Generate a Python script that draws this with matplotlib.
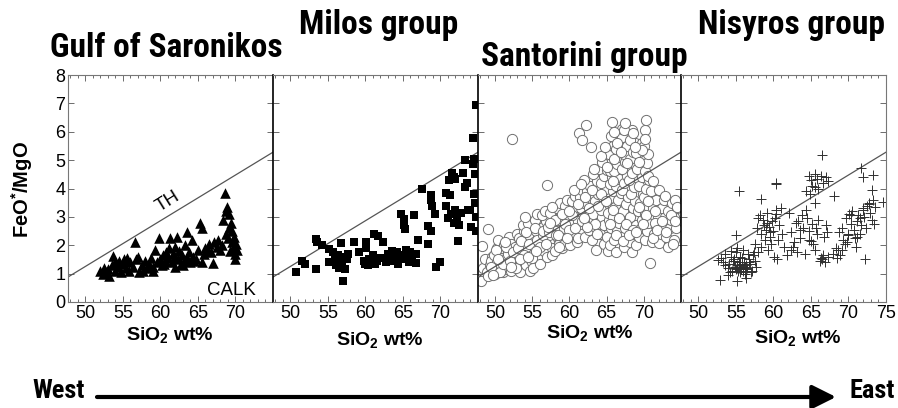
import matplotlib
matplotlib.use("Agg")
import matplotlib.pyplot as plt
from matplotlib import font_manager as fm
from matplotlib.ticker import MultipleLocator, FixedLocator
import numpy as np

# ---------------- data ----------------
panel_titles = ["Gulf of Saronikos", "Milos group", "Santorini group", "Nisyros group"]
x_ticks = [50, 55, 60, 65, 70, 75]
y_ticks = [0, 1, 2, 3, 4, 5, 6, 7, 8]

# TH / CALK boundary
th_sio2 = [47.7, 75.0]
th_ratio = [0.88, 5.28]

saronikos_sio2 = [
    52.0, 52.3, 52.5, 52.8, 53.0, 53.2, 53.5, 53.7, 53.9, 54.0,
    54.3, 54.5, 54.8, 55.0, 55.2, 55.4, 55.6, 55.8, 56.0, 56.3,
    56.6, 56.8, 57.0, 57.2, 57.5, 57.7, 58.0, 58.2, 58.5, 58.8,
    59.0, 59.3, 59.5, 59.8, 60.0, 60.2, 60.4, 60.6, 60.8, 61.0,
    61.2, 61.3, 61.5, 61.7, 61.9, 62.0, 62.2, 62.3, 62.5, 62.7,
    62.9, 63.1, 63.3, 63.5, 63.6, 63.8, 64.0, 64.2, 64.4, 64.7,
    65.0, 65.3, 65.6, 65.8, 66.0, 66.3, 66.5, 66.8, 67.0, 67.2,
    67.5, 67.7, 68.0, 68.2, 68.4, 68.6, 68.7, 68.8, 68.9, 69.0,
    69.1, 69.2, 69.3, 69.4, 69.5, 69.6, 69.7, 69.8, 69.9, 70.0,
    70.1, 70.2, 59.0, 60.5, 62.0, 63.0, 64.5, 65.5,
]
saronikos_ratio = [
    1.10, 0.98, 1.20, 1.05, 1.15, 0.90, 1.30, 1.62, 1.40, 1.10,
    1.25, 1.45, 1.05, 1.35, 1.50, 1.20, 1.55, 1.10, 1.40, 1.25,
    2.10, 1.50, 1.60, 1.05, 1.30, 1.10, 1.45, 1.20, 1.35, 1.55,
    1.25, 1.85, 1.40, 2.25, 1.50, 1.30, 1.65, 1.45, 1.75, 1.55,
    1.90, 2.25, 1.40, 1.70, 1.60, 1.95, 2.30, 1.50, 1.80, 1.35,
    1.65, 1.45, 2.00, 1.55, 2.48, 1.75, 1.40, 2.20, 1.60, 1.50,
    1.85, 2.80, 2.60, 1.70, 1.90, 1.80, 2.05, 1.75, 1.37, 2.10,
    1.95, 2.20, 1.85, 2.00, 2.90, 3.84, 3.20, 2.40, 3.35, 2.25,
    3.10, 2.60, 1.80, 2.80, 2.10, 2.50, 1.90, 2.30, 1.70, 1.50,
    2.05, 1.85, 1.10, 1.35, 1.25, 1.30, 1.45, 1.40,
]

milos_sio2 = [
    50.7, 51.5, 52.0, 53.4, 53.5, 54.2, 53.4, 55.1, 55.1, 55.7,
    55.9, 56.1, 56.3, 56.5, 56.6, 56.8, 56.9, 57.0, 57.1, 57.3,
    57.5, 57.7, 58.5, 59.1, 59.8, 60.0, 60.1, 60.1, 60.3, 60.5,
    60.7, 61.0, 61.2, 61.3, 61.5, 61.7, 62.0, 62.4, 62.8, 63.0,
    63.3, 63.5, 63.7, 64.0, 64.2, 64.4, 64.6, 64.8, 65.0, 65.2,
    65.2, 65.3, 65.4, 65.6, 65.8, 66.0, 66.2, 66.5, 66.7, 67.0,
    66.8, 67.6, 68.4, 68.4, 68.8, 68.8, 68.9, 68.8, 69.3, 69.4,
    70.0, 70.7, 70.7, 71.1, 71.3, 71.5, 71.8, 72.0, 71.0, 71.4,
    71.8, 72.0, 72.2, 72.4, 72.5, 72.8, 73.0, 73.3, 73.3, 73.5,
    73.7, 74.0, 74.1, 74.3, 74.5, 74.6, 74.5, 74.6, 74.7, 74.8,
    74.7, 74.4,
]
milos_ratio = [
    1.04, 1.43, 1.35, 2.23, 2.13, 2.02, 1.17, 1.87, 1.42, 1.75,
    1.55, 1.30, 1.65, 1.20, 1.45, 2.08, 1.35, 0.73, 1.60, 1.15,
    1.50, 1.70, 2.10, 1.75, 1.45, 1.35, 2.13, 1.90, 1.30, 1.50,
    1.40, 1.65, 2.40, 1.35, 1.45, 2.31, 1.55, 2.10, 1.40, 1.70,
    1.55, 1.78, 1.45, 1.60, 1.75, 1.35, 1.65, 3.10, 1.50, 2.92,
    2.72, 2.57, 1.85, 1.60, 1.40, 1.75, 1.55, 3.07, 1.70, 2.19,
    1.37, 4.00, 2.69, 2.04, 3.78, 3.60, 3.37, 2.49, 3.10, 1.25,
    1.42, 3.37, 3.84, 4.30, 3.78, 4.54, 4.40, 4.35, 2.95, 3.10,
    2.80, 3.25, 3.00, 2.16, 2.70, 3.15, 4.54, 5.00, 4.07, 4.20,
    3.25, 3.25, 2.66, 5.77, 5.05, 4.50, 3.80, 3.50, 3.00, 6.94,
    2.50, 4.85,
]

santorini_sio2 = [
    48.1, 48.4, 48.6, 48.2, 48.9,
    49.1, 49.3, 49.6, 49.8, 49.1, 49.5,
    50.0, 50.2, 50.5, 50.7, 50.3, 50.9, 50.4, 50.8,
    51.0, 51.3, 51.5, 51.8, 51.2, 51.6, 51.9, 51.4, 51.7,
    52.1, 52.4, 52.6, 52.8, 52.2, 52.5, 52.9, 52.3, 52.7,
    53.0, 53.3, 53.5, 53.8, 53.2, 53.6, 53.9, 53.4, 53.7,
    54.1, 54.3, 54.6, 54.8, 54.2, 54.5, 54.9, 54.4, 54.7, 54.0,
    55.0, 55.3, 55.6, 55.8, 55.2, 55.5, 55.9, 55.4, 55.7, 55.1,
    56.1, 56.4, 56.6, 56.8, 56.2, 56.5, 56.9, 56.3, 56.7, 56.0,
    57.0, 57.3, 57.6, 57.8, 57.2, 57.5, 57.9, 57.4, 57.0, 57.7,
    58.1, 58.4, 58.6, 58.8, 58.2, 58.5, 58.9, 58.3, 58.7,
    59.0, 59.3, 59.6, 59.8, 59.2, 59.5, 59.9, 59.4, 59.7, 59.1,
    60.1, 60.4, 60.6, 60.8, 60.2, 60.5, 60.9, 60.3, 60.7,
    61.0, 61.3, 61.6, 61.8, 61.2, 61.5, 61.9, 61.4, 61.7, 61.3, 61.1,
    62.1, 62.4, 62.6, 62.8, 62.2, 62.5, 62.9, 62.3, 62.7, 62.2, 61.7, 62.0,
    63.0, 63.3, 63.6, 63.8, 63.2, 63.5, 63.9, 63.4, 63.7, 63.1, 62.9, 63.6,
    64.1, 64.4, 64.6, 64.8, 64.2, 64.5, 64.9, 64.3, 64.7, 64.0, 64.6,
    65.0, 65.3, 65.6, 65.8, 65.2, 65.5, 65.9, 65.4, 65.7, 65.1, 65.6, 65.3, 65.8, 65.2,
    65.7, 65.9, 65.5, 65.8, 65.4,
    66.2, 66.0, 66.4, 66.6, 66.8, 66.1, 66.5, 66.9, 66.3, 66.7, 66.0, 66.4, 66.8, 66.2, 66.6,
    67.3, 67.0, 67.5, 67.8, 67.2, 67.6, 67.9, 67.1, 67.4, 67.7, 67.0, 67.5, 67.3, 67.8, 67.1, 67.0,
    68.4, 68.1, 68.6, 68.9, 68.2, 68.5, 68.8, 68.3, 68.7, 68.0, 68.4, 68.9, 68.2, 68.6, 68.8, 68.4,
    69.0, 69.3, 69.6, 69.8, 69.2, 69.5, 69.9, 69.4, 69.7, 69.1, 69.6, 69.3, 69.8,
    70.8, 70.1, 70.4, 70.6, 70.2, 70.5, 70.0, 70.3, 70.7, 70.1, 70.4, 70.6, 70.2, 70.3, 70.0,
    71.1, 71.4, 71.6, 71.9, 71.3, 71.7, 71.0, 71.5,
    72.0, 72.3, 72.6, 72.8, 72.4, 72.1, 72.7,
    73.2, 73.0, 73.5, 73.7, 73.3, 73.8,
    74.0, 74.3, 74.1, 74.4, 74.2,
    49.4, 49.9, 50.1, 50.6, 51.1, 51.5, 52.0, 52.4, 52.8, 53.1,
    53.5, 53.9, 54.2, 54.6, 55.0, 55.3, 55.7, 56.1, 56.5, 56.9,
    49.7, 50.4, 51.3, 52.2, 53.3, 54.4, 55.5, 56.4, 57.3, 58.2,
    57.1, 57.6, 58.0, 58.5, 59.0, 59.4, 59.9, 60.3, 60.8, 61.2,
    61.7, 62.1, 62.6, 63.0, 63.5, 63.9, 58.6, 59.7, 60.6, 61.5,
    62.4, 63.3, 64.2, 57.4, 60.0, 61.9, 63.7, 64.4,
    64.3, 64.8, 65.1, 65.6, 66.0, 66.4, 66.9, 67.3, 67.7, 68.1,
    68.5, 68.9, 69.3, 69.7, 70.1, 70.5, 64.9, 65.8, 66.7, 67.6,
    68.5, 69.4, 70.3, 71.2, 65.4, 66.3, 67.2, 68.0, 69.0, 69.9,
    66.0, 67.5, 68.8, 70.6, 65.9,
    71.2, 71.8, 72.5, 73.0, 73.6, 74.2, 74.5, 72.9, 73.9, 71.5,
]
santorini_ratio = [
    0.75, 1.20, 1.50, 1.97, 1.05,
    0.90, 1.30, 1.60, 1.10, 2.56, 1.45,
    1.00, 1.40, 1.20, 1.75, 1.90, 1.55, 2.20, 1.30,
    1.05, 1.45, 1.25, 1.80, 2.00, 1.60, 2.30, 1.15, 1.70,
    1.10, 1.50, 1.30, 1.85, 2.05, 1.65, 2.40, 5.76, 1.95,
    1.20, 1.60, 1.40, 2.00, 2.25, 1.80, 2.50, 1.05, 2.70,
    1.30, 1.75, 1.55, 2.15, 1.95, 2.35, 2.60, 2.80, 1.10, 3.00,
    1.40, 1.90, 1.65, 2.30, 2.10, 2.50, 2.70, 2.90, 3.10, 1.20,
    1.50, 2.00, 1.80, 2.45, 2.20, 2.65, 2.85, 3.05, 3.20, 1.35,
    1.60, 2.15, 1.90, 2.55, 2.35, 2.75, 2.95, 3.15, 4.14, 1.65,
    1.80, 2.25, 2.05, 2.70, 2.50, 2.90, 3.10, 3.30, 3.50,
    1.90, 2.40, 2.15, 2.80, 2.60, 3.00, 3.20, 3.40, 3.60, 2.00,
    2.00, 2.50, 2.30, 2.95, 2.75, 3.15, 3.35, 3.55, 3.75,
    2.10, 2.65, 2.40, 3.05, 2.85, 3.30, 3.50, 3.70, 3.95, 5.94, 2.25,
    2.30, 2.80, 2.55, 3.20, 3.00, 3.45, 3.65, 3.90, 4.10, 6.23, 5.70, 4.30,
    2.20, 2.90, 2.60, 3.35, 3.10, 3.55, 3.80, 4.00, 4.25, 4.50, 5.47, 1.85,
    2.40, 3.00, 2.70, 3.50, 3.25, 3.70, 3.95, 4.20, 4.45, 4.70, 2.05,
    2.30, 2.90, 2.60, 3.40, 3.15, 3.65, 3.90, 4.15, 4.40, 4.65, 4.90, 5.20, 5.50, 1.80,
    6.35, 5.90, 4.60, 3.00, 2.00,
    1.77, 2.20, 2.50, 2.80, 3.10, 3.35, 3.60, 3.85, 4.10, 4.35, 4.60, 4.85, 5.10, 5.40, 5.70,
    1.95, 2.30, 2.60, 2.90, 3.20, 3.45, 3.70, 3.95, 4.20, 4.45, 4.70, 4.95, 5.20, 5.50, 5.80, 6.10,
    1.77, 2.10, 2.40, 2.70, 3.00, 3.30, 3.55, 3.80, 4.05, 4.30, 4.55, 4.80, 5.05, 5.30, 5.60, 6.05,
    2.00, 2.30, 2.60, 2.90, 3.20, 3.50, 3.80, 4.10, 4.40, 4.70, 5.00, 5.30, 5.60,
    1.36, 2.20, 2.50, 2.80, 3.10, 3.40, 3.70, 4.00, 4.30, 4.60, 4.90, 5.20, 6.05, 6.40, 5.50,
    2.10, 2.40, 2.70, 3.00, 3.30, 3.60, 3.90, 2.80,
    2.07, 2.40, 2.70, 3.00, 3.30, 3.94, 3.60,
    1.95, 2.30, 2.60, 2.90, 3.20, 3.50,
    2.20, 2.60, 3.00, 3.30, 3.60,
    1.25, 1.65, 1.85, 1.05, 1.35, 1.95, 1.45, 1.75, 1.20, 1.90,
    2.15, 1.65, 2.45, 2.05, 1.55, 2.60, 2.20, 1.95, 2.35, 2.05,
    0.95, 1.50, 2.10, 1.25, 1.50, 1.60, 1.80, 2.50, 2.45, 2.35,
    2.65, 3.35, 2.90, 2.35, 3.10, 2.75, 2.55, 3.05, 2.60, 3.45,
    2.85, 3.70, 3.30, 3.95, 2.75, 3.40, 1.95, 2.25, 3.95, 4.15,
    2.65, 4.70, 3.80, 2.80, 3.20, 2.95, 2.40, 4.95,
    5.15, 5.45, 4.75, 5.85, 5.05, 5.60, 5.30, 6.05, 4.90, 5.70,
    5.95, 5.25, 4.95, 5.35, 5.75, 4.45, 3.55, 3.25, 2.95, 2.75,
    2.55, 3.35, 3.05, 4.25, 2.75, 2.35, 2.15, 2.35, 2.45, 2.75,
    6.00, 6.30, 5.45, 3.55, 4.25,
    2.25, 2.55, 2.85, 2.45, 3.05, 2.85, 3.35, 3.75, 2.05, 3.20,
]

nisyros_sio2 = [
    53.0, 53.3, 53.6, 53.9, 54.1, 54.3, 54.5, 54.7, 54.9, 55.0,
    55.2, 55.3, 55.4, 55.5, 55.6, 55.7, 55.8, 55.9, 56.0, 56.1,
    56.2, 56.3, 56.4, 56.5, 56.7, 56.9, 57.1, 57.3, 57.5, 57.7,
    54.0, 54.4, 54.8, 55.1, 55.5, 55.9, 56.3, 56.6, 57.0,
    53.5, 54.2, 54.6, 55.0, 55.4, 55.8, 56.2, 56.8, 57.4,
    55.2, 55.6, 55.4, 55.0, 55.2, 52.9, 52.6,
    57.5, 57.8, 58.0, 58.2, 58.4, 58.6, 58.8, 59.0, 59.2, 59.4,
    59.5, 59.6, 59.8, 60.0, 60.2, 60.4, 60.6, 60.8, 61.0, 61.2,
    58.3, 58.9, 59.3, 59.7, 60.1, 60.5, 57.9, 59.1, 60.3, 61.4,
    58.3, 60.3, 60.4,
    62.1, 62.3, 62.6, 63.0, 63.2, 63.5, 63.8, 64.0, 64.2, 64.5,
    64.7, 65.0, 65.2, 65.5, 65.8, 66.0, 66.3, 66.5, 66.8, 67.0,
    67.3, 62.8, 63.6, 64.4, 65.3, 66.2, 66.6, 66.9, 67.2, 63.3,
    64.8, 65.7, 61.8, 62.4,
    64.4, 64.7, 65.0, 65.2, 65.5, 65.8, 66.0, 66.3, 66.6, 67.0,
    67.3, 64.9, 65.6, 66.5, 68.1, 65.5,
    68.0, 68.3, 68.5, 68.7, 68.9, 69.1, 69.3, 69.5, 69.7, 69.9,
    70.1, 70.3, 70.5, 70.7, 70.9, 71.1, 71.3, 71.5, 71.7, 71.9,
    72.1, 72.3, 72.5, 72.7, 72.9, 73.1, 73.3, 73.5, 68.6, 69.2,
    69.8, 70.4, 71.0, 71.6, 72.2, 72.8, 73.4, 70.0, 71.2, 71.7,
    71.9, 73.3, 74.6, 73.2, 72.0,
]
nisyros_ratio = [
    1.55, 1.40, 1.70, 1.20, 1.35, 1.60, 1.10, 1.45, 1.25, 1.15,
    1.30, 1.10, 1.20, 1.05, 1.25, 1.15, 1.35, 1.20, 1.10, 1.40,
    1.25, 1.15, 1.30, 1.20, 1.50, 1.35, 1.10, 1.65, 1.45, 1.25,
    0.95, 1.80, 1.50, 0.75, 1.60, 1.85, 0.85, 1.70, 1.05,
    1.30, 1.05, 1.45, 1.75, 1.40, 1.55, 1.00, 1.40, 1.75,
    1.20, 1.30, 3.92, 2.36, 1.89, 0.78, 1.48,
    2.05, 2.60, 2.95, 3.05, 2.40, 2.90, 2.70, 2.55, 2.80, 2.65,
    2.45, 2.30, 2.85, 2.50, 2.95, 3.10, 2.20, 2.70, 3.30, 2.40,
    1.95, 2.20, 1.85, 2.05, 1.60, 1.50, 1.75, 3.15, 3.25, 1.95,
    3.62, 4.19, 4.15,
    3.13, 2.45, 1.95, 2.80, 1.75, 2.25, 3.05, 2.60, 1.70, 2.95,
    2.50, 2.15, 2.75, 1.85, 2.40, 2.90, 1.55, 1.50, 2.30, 2.70,
    1.60, 2.10, 2.55, 3.25, 2.05, 1.45, 1.65, 1.40, 2.45, 2.85,
    2.20, 2.60, 1.65, 1.85,
    3.90, 4.45, 4.30, 4.10, 4.50, 4.35, 4.00, 4.45, 4.20, 4.40,
    4.25, 3.80, 4.05, 5.18, 3.72, 3.48,
    1.70, 1.90, 1.55, 2.45, 1.65, 1.85, 2.20, 2.05, 2.95, 2.35,
    3.10, 2.75, 3.20, 2.55, 2.25, 2.85, 3.05, 2.40, 2.70, 3.25,
    3.00, 2.60, 3.40, 3.50, 3.15, 2.90, 3.60, 3.35, 1.84, 2.60,
    2.10, 3.05, 1.95, 2.95, 1.50, 3.45, 2.75, 2.40, 2.30, 4.72,
    4.42, 4.48, 3.54, 3.95, 3.30,
]

# ---------------- fonts ----------------
available = {f.name for f in fm.fontManager.ttflist}
base_font = "Liberation Sans" if "Liberation Sans" in available else "DejaVu Sans"

def find_condensed_bold():
    for name in ["Liberation Sans Narrow", "Arial Narrow", "Roboto Condensed",
                 "DejaVu Sans Condensed", "Open Sans Condensed", "Noto Sans Condensed"]:
        if name in available:
            return fm.FontProperties(family=name, weight="bold"), True
    for f in fm.fontManager.ttflist:
        st = f.stretch
        is_cond = (isinstance(st, str) and "condensed" in st and "semi" not in st) or \
                  (isinstance(st, (int, float)) and st <= 300)
        wt = f.weight
        is_bold = wt in ("bold", 700) or (isinstance(wt, (int, float)) and wt >= 700)
        if is_cond and is_bold and f.fname.lower().endswith((".ttf", ".otf")):
            return fm.FontProperties(fname=f.fname), True
    return fm.FontProperties(family=base_font, weight="bold"), False

cond_prop, is_cond = find_condensed_bold()

plt.rcParams["font.family"] = [base_font, "DejaVu Sans"]
plt.rcParams["mathtext.fontset"] = "custom"
plt.rcParams["mathtext.rm"] = base_font
plt.rcParams["mathtext.bf"] = base_font + ":bold"

fig = plt.figure(figsize=(8.98, 4.08), dpi=100)
W, H = 898.0, 408.0

panel_px = [(68, 273), (273, 478), (478, 681), (681, 886)]
top_px, bot_px = 75, 302
axes = []
for (l, r) in panel_px:
    ax = fig.add_axes([l / W, 1 - bot_px / H, (r - l) / W, (bot_px - top_px) / H])
    axes.append(ax)

series = [
    (saronikos_sio2, saronikos_ratio, dict(marker="^", s=58, c="black", linewidths=0)),
    (milos_sio2, milos_ratio, dict(marker="s", s=32, c="black", linewidths=0)),
    (santorini_sio2, santorini_ratio, dict(marker="o", s=54, facecolors="white",
                                            edgecolors="#707070", linewidths=0.7)),
    (nisyros_sio2, nisyros_ratio, dict(marker="+", s=60, c="#303030", linewidths=0.7)),
]

for i, ax in enumerate(axes):
    xs, ys, kw = series[i]
    ax.plot(th_sio2, th_ratio, color="#555555", lw=0.9, zorder=3 if i == 2 else 1)
    ax.scatter(xs, ys, zorder=2, **kw)
    ax.set_xlim(47.7, 75.0)
    ax.set_ylim(0, 8)
    labels_x = x_ticks if i == 3 else x_ticks[:-1]
    ax.xaxis.set_major_locator(FixedLocator(labels_x))
    ax.xaxis.set_minor_locator(MultipleLocator(1))
    ax.yaxis.set_major_locator(FixedLocator(y_ticks))
    ax.tick_params(axis="both", which="both", direction="in", top=True, right=True,
                   color="#555555", width=0.6)
    ax.tick_params(axis="both", which="major", length=4, labelsize=13, pad=2)
    ax.tick_params(axis="both", which="minor", length=2)
    if i > 0:
        ax.tick_params(axis="y", labelleft=False)
    for side in ["top", "bottom", "right"]:
        ax.spines[side].set_color("#777777")
        ax.spines[side].set_linewidth(0.8)
    ax.spines["left"].set_color("black" if i > 0 else "#777777")
    ax.spines["left"].set_linewidth(1.2 if i > 0 else 0.8)

axes[0].text(61.0, 3.55, "TH", rotation=32, fontsize=13.5, ha="center", va="center")
axes[0].text(69.5, 0.42, "CALK", fontsize=13.5, ha="center", va="center")

# x labels
xlabel_pos = [(170, 335), (380, 340), (590, 333), (798, 338)]
for (px, py) in xlabel_pos:
    fig.text(px / W, 1 - py / H, r"$\mathbf{SiO_2}$ wt%", fontsize=14, fontweight="bold",
             ha="center", va="center")

fig.text(22 / W, 1 - 190 / H, r"FeO$^{\mathbf{*}}$/MgO", rotation=90, fontsize=14.5,
         fontweight="bold", ha="center", va="center")

title_size = 24 if is_cond else 20
title_pos = [(50, 48), (299, 25), (481, 57), (698, 25)]
for t, (px, py) in zip(panel_titles, title_pos):
    fig.text(px / W, 1 - py / H, t, fontproperties=cond_prop, fontsize=title_size,
             ha="left", va="center")

ew_size = 19 if is_cond else 16
fig.text(59 / W, 1 - 391 / H, "West", fontproperties=cond_prop, fontsize=ew_size,
         ha="center", va="center")
fig.text(872 / W, 1 - 391 / H, "East", fontproperties=cond_prop, fontsize=ew_size,
         ha="center", va="center")
fig.add_artist(matplotlib.patches.FancyArrowPatch(
    (97 / W, 1 - 397 / H), (836 / W, 1 - 397 / H), transform=fig.transFigure,
    arrowstyle="-|>,head_length=0.9,head_width=0.45", mutation_scale=16, lw=3,
    color="black", shrinkA=0, shrinkB=0))

fig.savefig("out.png", dpi=100)
